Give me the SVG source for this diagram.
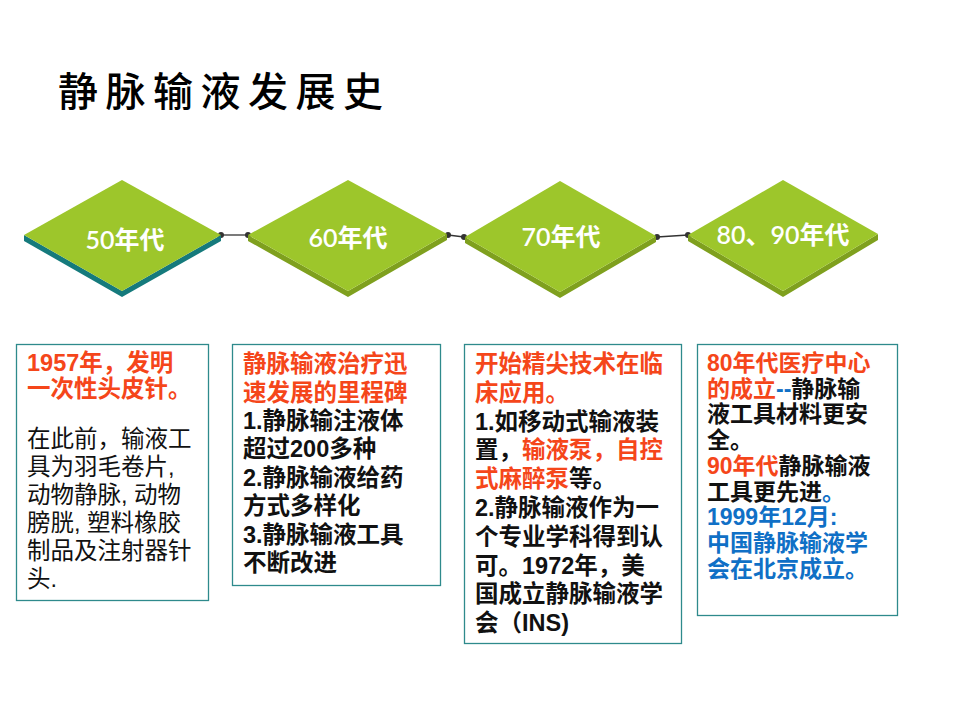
<svg xmlns="http://www.w3.org/2000/svg" width="960" height="720" viewBox="0 0 960 720">
<style>
.top{fill:#9DC62B}
.side{fill:#7FA01E}
.side1{fill:#157A7C}
.lbl{font-family:"Lato","Noto Sans CJK SC",sans-serif;font-size:25px;font-weight:600;fill:#FFFFFF;text-anchor:middle}
.box{fill:#FFFFFF;stroke:#2E8A8C;stroke-width:1.3}
.t{font-family:"Liberation Sans","Noto Sans CJK SC",sans-serif;font-size:23.5px;font-weight:700;fill:#111111}
.n{font-family:"Liberation Sans","Noto Sans CJK SC",sans-serif;font-size:23.5px;font-weight:400;fill:#111111}
.s{font-size:23px}
.r{fill:#F5461A}
.b{fill:#1070C6}
.conn line{stroke:#333333;stroke-width:1.3}
.conn circle{fill:#333333}
</style>
<rect width="960" height="720" fill="#FFFFFF"/>
<g id="title">
<text x="58" y="106" font-family="Noto Sans CJK SC" font-size="40" font-weight="500" letter-spacing="7.5" fill="#000000">静脉输液发展史</text>
</g>
<g id="connectors" class="conn">
<line x1="221" y1="235" x2="248" y2="235"/>
<line x1="448" y1="235" x2="464" y2="237"/>
<line x1="657" y1="237" x2="688" y2="235"/>
<circle cx="221" cy="235" r="3"/>
<circle cx="248" cy="235" r="3"/>
<circle cx="448" cy="235" r="3"/>
<circle cx="464" cy="237" r="3"/>
<circle cx="657" cy="237" r="3"/>
<circle cx="688" cy="235" r="3"/>
</g>
<g id="d50">
<polygon class="side1" points="24,235 122,291 221,235 221,241 122,297 24,241"/>
<polygon class="top" points="122,180 221,235 122,291 24,235"/>
<text class="lbl" x="125" y="249">50年代</text>
</g>
<g id="d60">
<polygon class="side" points="248,235 348,291 447,234 447,240 348,297 248,241"/>
<polygon class="top" points="348,180 447,234 348,291 248,235"/>
<text class="lbl" x="348" y="247">60年代</text>
</g>
<g id="d70">
<polygon class="side" points="465,237 560,292 656,236 656,242 560,298 465,243"/>
<polygon class="top" points="560,181 656,236 560,292 465,237"/>
<text class="lbl" x="561" y="246">70年代</text>
</g>
<g id="d8090">
<polygon class="side" points="688,235 783,291 878,234 878,240 783,297 688,241"/>
<polygon class="top" points="783,180 878,234 783,291 688,235"/>
<text class="lbl" x="783" y="244">80、90年代</text>
</g>
<g id="box1">
<rect class="box" x="16.5" y="344.5" width="192" height="256"/>
<text class="t r"><tspan x="27" y="371">1957年，发明</tspan><tspan x="27" y="397">一次性头皮针。</tspan></text>
<text class="n"><tspan x="27" y="447">在此前，输液工</tspan><tspan x="27" y="475">具为羽毛卷片,</tspan><tspan x="27" y="503">动物静脉, 动物</tspan><tspan x="27" y="531">膀胱, 塑料橡胶</tspan><tspan x="27" y="559">制品及注射器针</tspan><tspan x="27" y="587">头.</tspan></text>
</g>
<g id="box2">
<rect class="box" x="232.5" y="344.5" width="208" height="241"/>
<text class="t"><tspan class="r" x="243" y="372">静脉输液治疗迅</tspan><tspan class="r" x="243" y="401">速发展的里程碑</tspan><tspan x="243" y="429">1.静脉输注液体</tspan><tspan x="243" y="457">超过200多种</tspan><tspan x="243" y="486">2.静脉输液给药</tspan><tspan x="243" y="514">方式多样化</tspan><tspan x="243" y="543">3.静脉输液工具</tspan><tspan x="243" y="571">不断改进</tspan></text>
</g>
<g id="box3">
<rect class="box" x="464.5" y="344.5" width="217" height="299"/>
<text class="t"><tspan class="r" x="475" y="372">开始精尖技术在临</tspan><tspan class="r" x="475" y="401">床应用。</tspan><tspan x="475" y="430">1.如移动式输液装</tspan><tspan x="475" y="458">置，</tspan><tspan class="r">输液泵，自控</tspan><tspan class="r" x="475" y="487">式麻醉泵</tspan><tspan>等。</tspan><tspan x="475" y="516">2.静脉输液作为一</tspan><tspan x="475" y="545">个专业学科得到认</tspan><tspan x="475" y="574">可。1972年，美</tspan><tspan x="475" y="602">国成立静脉输液学</tspan><tspan x="475" y="631">会（INS)</tspan></text>
</g>
<g id="box4">
<rect class="box" x="697.5" y="344.5" width="200" height="271"/>
<text class="t s"><tspan class="r" x="707" y="371">80年代医疗中心</tspan><tspan class="r" x="707" y="397">的成立</tspan><tspan class="b">--</tspan><tspan>静脉输</tspan><tspan x="707" y="422">液工具材料更安</tspan><tspan x="707" y="448">全。</tspan><tspan class="r" x="707" y="474">90年代</tspan><tspan>静脉输液</tspan><tspan x="707" y="500">工具更先进</tspan><tspan class="b">。</tspan><tspan class="b" x="707" y="525">1999年12月:</tspan><tspan class="b" x="707" y="551">中国静脉输液学</tspan><tspan class="b" x="707" y="577">会在北京成立。</tspan></text>
</g>
</svg>
